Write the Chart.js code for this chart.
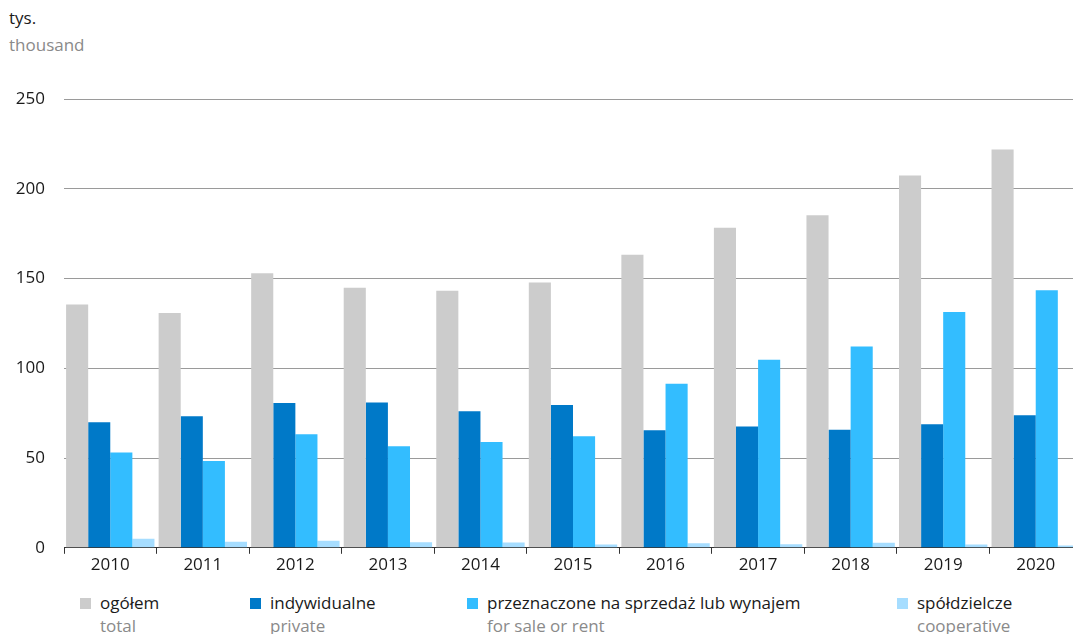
<!DOCTYPE html>
<html>
<head>
<meta charset="utf-8">
<script src="https://cdn.jsdelivr.net/npm/chart.js@4/dist/chart.umd.min.js"></script>
<style>
  html, body { margin: 0; padding: 0; background: #fff; overflow: hidden; width: 1073px; height: 634px; }
  body { font-family: "Open Sans", "Noto Sans", sans-serif; position: relative; }
  #wrap { position: absolute; left: 0; top: 0; width: 1082px; height: 577px; }
  .unit { position: absolute; left: 9px; font-size: 17px; line-height: 20px; }
  .legend { position: absolute; top: 591px; font-size: 17px; line-height: 23px; color: #1a1a1a; }
  .legend .sw { position: absolute; left: -20px; top: 7px; width: 11px; height: 11px; }
  .legend .en { color: #8a8a8a; }
</style>
</head>
<body>
<div class="unit" style="top:8px;color:#1a1a1a">tys.</div>
<div class="unit" style="top:35px;color:#8a8a8a">thousand</div>
<div id="wrap"><canvas id="c"></canvas></div>
<div id="legend"></div>
<script>
// lata
const years = ['2010','2011','2012','2013','2014','2015','2016','2017','2018','2019','2020'];
// tys. mieszkań
const ogolem       = [135.5, 130.8, 152.9, 144.8, 143.2, 147.8, 163.3, 178.3, 185.2, 207.4, 221.9];
const indywidualne = [70.0, 73.3, 80.7, 81.0, 76.1, 79.6, 65.5, 67.5, 65.8, 68.8, 73.8];
const naSprzedaz   = [53.1, 48.4, 63.3, 56.5, 59.0, 62.2, 91.4, 104.7, 112.1, 131.3, 143.5];
const spoldzielcze = [5.0, 3.4, 3.9, 3.1, 3.0, 1.9, 2.6, 2.0, 2.8, 1.8, 1.3];
const yTicks = [0, 50, 100, 150, 200, 250];

const series = [
    { pl: 'ogółem', en: 'total', data: ogolem, color: '#cccccc', x: 100 },
    { pl: 'indywidualne', en: 'private', data: indywidualne, color: '#0079c8', x: 270 },
    { pl: 'przeznaczone na sprzedaż lub wynajem', en: 'for sale or rent', data: naSprzedaz, color: '#33bdff', x: 487 },
    { pl: 'spółdzielcze', en: 'cooperative', data: spoldzielcze, color: '#a6ddff', x: 917 }
];

const legendEl = document.getElementById('legend');
series.forEach(s => {
    legendEl.innerHTML += `<div class="legend" style="left:${s.x}px"><span class="sw" style="background:${s.color}"></span>${s.pl}<br><span class="en">${s.en}</span></div>`;
});

const font = { family: '"Open Sans", "Noto Sans", sans-serif', size: 17 };

new Chart(document.getElementById('c'), {
    type: 'bar',
    data: {
        labels: years,
        datasets: series.map(s => ({ label: s.pl, data: s.data, backgroundColor: s.color, borderWidth: 0, categoryPercentage: 0.955, barPercentage: 1 }))
    },
    options: {
        responsive: true,
        maintainAspectRatio: false,
        animation: false,
        layout: { padding: { top: 99, right: 0, left: 0, bottom: 0 } },
        plugins: { legend: { display: false }, tooltip: { enabled: false } },
        scales: {
            x: {
                offset: true,
                grid: { offset: true, drawOnChartArea: false, color: '#333', tickLength: 6, lineWidth: 1 },
                border: { color: '#333', width: 1 },
                ticks: { color: '#1a1a1a', font: font, padding: 1, maxRotation: 0 }
            },
            y: {
                min: 0, max: 250,
                afterBuildTicks: axis => { axis.ticks = yTicks.map(v => ({ value: v })); },
                afterFit: axis => { axis.width = 64; },
                grid: { color: '#9a9a9a', drawTicks: false, lineWidth: 1 },
                border: { display: false },
                ticks: { color: '#1a1a1a', font: font, padding: 19 }
            }
        }
    }
});
</script>
</body>
</html>
